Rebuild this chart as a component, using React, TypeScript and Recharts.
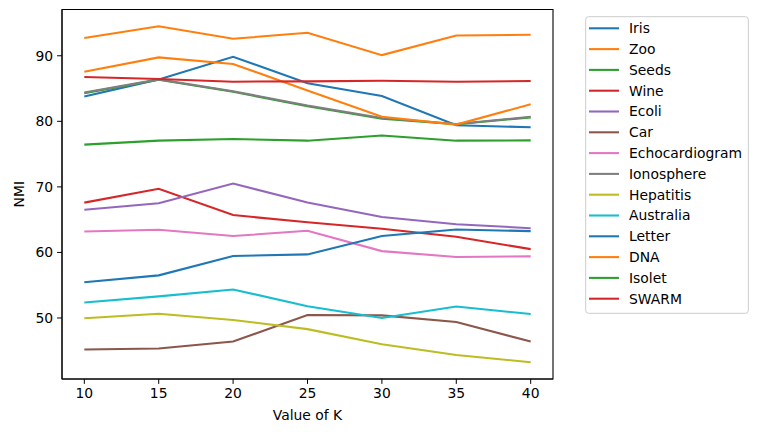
import React from "react";
import { LineChart, Line, XAxis, YAxis, ReferenceArea, Label } from "recharts";

const K = [10, 15, 20, 25, 30, 35, 40];
const iris = [83.8, 86.4, 89.85, 85.8, 83.85, 79.4, 79.1];
const zoo = [92.7, 94.5, 92.6, 93.5, 90.1, 93.1, 93.2];
const seeds = [84.3, 86.35, 84.5, 82.3, 80.4, 79.55, 80.6];
const wine = [67.6, 69.7, 65.7, 64.6, 63.6, 62.4, 60.5];
const ecoli = [66.5, 67.5, 70.5, 67.6, 65.4, 64.3, 63.7];
const car = [45.2, 45.35, 46.4, 50.45, 50.4, 49.4, 46.4];
const echocardiogram = [63.2, 63.45, 62.5, 63.3, 60.2, 59.3, 59.4];
const ionosphere = [84.4, 86.4, 84.6, 82.4, 80.5, 79.6, 80.7];
const hepatitis = [49.95, 50.65, 49.7, 48.3, 46.0, 44.35, 43.25];
const australia = [52.35, 53.3, 54.35, 51.8, 50.0, 51.75, 50.6];
const letter = [55.45, 56.5, 59.45, 59.7, 62.5, 63.5, 63.25];
const dna = [87.55, 89.75, 88.75, 84.7, 80.7, 79.5, 82.6];
const isolet = [76.45, 77.05, 77.3, 77.05, 77.85, 77.05, 77.1];
const swarm = [86.75, 86.45, 86.05, 86.1, 86.2, 86.05, 86.15];

const xTicks = [10, 15, 20, 25, 30, 35, 40];
const yTicks = [50, 60, 70, 80, 90];

const series = [
  { name: "Iris", values: iris, color: "#1f77b4" },
  { name: "Zoo", values: zoo, color: "#ff7f0e" },
  { name: "Seeds", values: seeds, color: "#2ca02c" },
  { name: "Wine", values: wine, color: "#d62728" },
  { name: "Ecoli", values: ecoli, color: "#9467bd" },
  { name: "Car", values: car, color: "#8c564b" },
  { name: "Echocardiogram", values: echocardiogram, color: "#e377c2" },
  { name: "Ionosphere", values: ionosphere, color: "#7f7f7f" },
  { name: "Hepatitis", values: hepatitis, color: "#bcbd22" },
  { name: "Australia", values: australia, color: "#17becf" },
  { name: "Letter", values: letter, color: "#1f77b4" },
  { name: "DNA", values: dna, color: "#ff7f0e" },
  { name: "Isolet", values: isolet, color: "#2ca02c" },
  { name: "SWARM", values: swarm, color: "#d62728" },
];

const data = K.map((k, i) => {
  const row: Record<string, number> = { k };
  series.forEach((s) => {
    row[s.name] = s.values[i];
  });
  return row;
});

const FONT = "DejaVu Sans, sans-serif";
const FS = 13.9;
const X_DOMAIN: [number, number] = [8.5, 41.5];
const Y_DOMAIN: [number, number] = [40.69, 97.06];

export default function App() {
  return (
    <div style={{ position: "absolute", left: 0, top: 0, width: 758, height: 432, background: "#fff" }}>
      <LineChart
        width={758}
        height={432}
        data={data}
        margin={{ top: 9.5, right: 205, bottom: 0, left: 0 }}
        style={{ fontFamily: FONT }}
      >
        <XAxis
          dataKey="k"
          type="number"
          domain={X_DOMAIN}
          ticks={xTicks}
          allowDataOverflow
          height={53}
          tickSize={4.9}
          tickMargin={4}
          stroke="#000"
          tick={{ fill: "#000", fontSize: FS, fontFamily: FONT }}
          tickLine={{ stroke: "#000" }}
        >
          <Label
            content={({ viewBox }: any) => (
              <text
                x={viewBox.x + viewBox.width / 2}
                y={420}
                textAnchor="middle"
                fontSize={FS}
                fontFamily={FONT}
                fill="#000"
              >
                Value of K
              </text>
            )}
          />
        </XAxis>
        <YAxis
          type="number"
          domain={Y_DOMAIN}
          ticks={yTicks}
          allowDataOverflow
          width={62}
          tickSize={4.9}
          tickMargin={4}
          stroke="#000"
          tick={{ fill: "#000", fontSize: FS, fontFamily: FONT }}
          tickLine={{ stroke: "#000" }}
        >
          <Label
            content={({ viewBox }: any) => {
              const cy = viewBox.y + viewBox.height / 2;
              return (
                <text
                  x={18.5}
                  y={cy}
                  transform={`rotate(-90 18.5 ${cy})`}
                  textAnchor="middle"
                  dominantBaseline="central"
                  fontSize={FS}
                  fontFamily={FONT}
                  fill="#000"
                >
                  NMI
                </text>
              );
            }}
          />
        </YAxis>
        {series.map((s) => (
          <Line
            key={s.name}
            dataKey={s.name}
            stroke={s.color}
            strokeWidth={2.08}
            dot={false}
            activeDot={false}
            isAnimationActive={false}
            type="linear"
          />
        ))}
        <ReferenceArea
          x1={X_DOMAIN[0]}
          x2={X_DOMAIN[1]}
          y1={Y_DOMAIN[0]}
          y2={Y_DOMAIN[1]}
          fill="none"
          stroke="#000"
          strokeWidth={1.1}
          ifOverflow="visible"
        />
      </LineChart>
      <svg
        width={758}
        height={432}
        style={{ position: "absolute", left: 0, top: 0, pointerEvents: "none" }}
      >
        <rect x={585.7} y={16.7} width={162.6} height={296.6} rx={2.8} fill="#fff" fillOpacity={0.8} stroke="#cccccc" strokeWidth={1} />
        {series.map((s, i) => {
          const cy = 28.3 + i * 20.8;
          return (
            <g key={s.name}>
              <line x1={589} x2={619} y1={cy} y2={cy} stroke={s.color} strokeWidth={2.08} />
              <text x={629} y={cy} dy="0.35em" fontSize={FS} fontFamily={FONT} fill="#000">
                {s.name}
              </text>
            </g>
          );
        })}
      </svg>
    </div>
  );
}
